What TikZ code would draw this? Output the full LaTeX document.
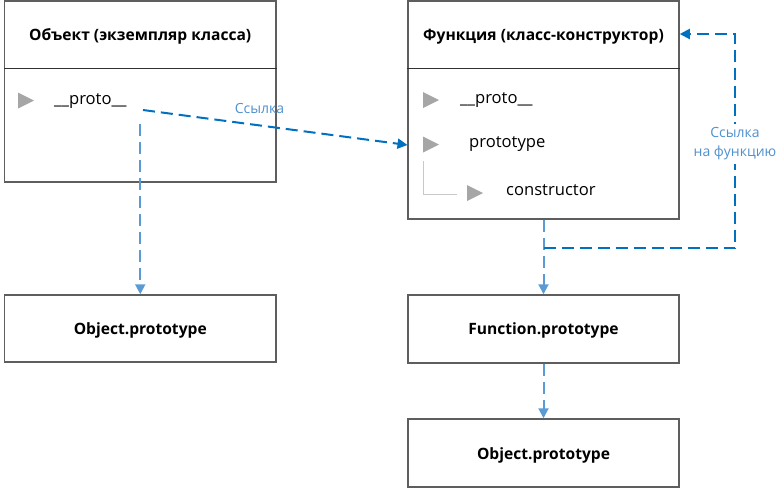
\documentclass[tikz,border=0pt]{standalone}
\usepackage{fontspec}
\setmainfont{Open Sans}
\usetikzlibrary{arrows.meta}
\definecolor{boxgray}{HTML}{5E5E5E}
\definecolor{divgray}{HTML}{303030}
\definecolor{darkblue}{HTML}{0070C0}
\definecolor{lightblue}{HTML}{5B9BD5}
\definecolor{trigray}{HTML}{A6A6A6}
\definecolor{treegray}{HTML}{C8C8C8}
\definecolor{labelblue}{HTML}{4F91CF}
\begin{document}
\begin{tikzpicture}[x=1pt,y=-1pt,
  box/.style={draw=boxgray, line width=1.5pt, inner sep=0pt, fill=white},
  divider/.style={draw=divgray, line width=1.2pt},
  head/.style={font=\fontsize{15.6}{19}\selectfont\bfseries, anchor=base, inner sep=0pt},
  item/.style={font=\fontsize{16.6}{19}\selectfont, anchor=base west, inner sep=0pt},
  lbl/.style={font=\fontsize{14}{19}\selectfont, text=labelblue, align=center, inner sep=2pt},
  dlink/.style={draw=darkblue, line width=2pt, dash pattern=on 12pt off 6pt, -{Triangle[length=10pt,width=10pt]}},
  llink/.style={draw=lightblue, line width=2pt, dash pattern=on 12pt off 6pt, -{Triangle[length=10pt,width=10pt]}},
  tri/.style={fill=trigray, draw=none},
  tree/.style={draw=treegray, line width=1pt},
]
\useasboundingbox (0,0) rectangle (784,488);

% boxes
\node[box, minimum width=271.5pt, minimum height=181pt] (objBox) at (140.25,91.5) {};
\node[box, minimum width=271pt, minimum height=218pt] (funcBox) at (543.5,110) {};
\node[box, minimum width=271.5pt, minimum height=67pt] (objProtoA) at (140.25,328.5) {};
\node[box, minimum width=271pt, minimum height=68pt] (funcProto) at (543.5,329) {};
\node[box, minimum width=271pt, minimum height=68pt] (objProtoB) at (543.5,453) {};

% dividers
\draw[divider] (objBox.west |- 0,68.5) -- (objBox.east |- 0,68.5);
\draw[divider] (funcBox.west |- 0,68.5) -- (funcBox.east |- 0,68.5);

% headers
\node[head] (objHead) at (140.25,40) {Объект (экземпляр класса)};
\node[head] (funcHead) at (543.5,40) {Функция (класс-конструктор)};
\node[head] (objProtoAText) at (140.25,334) {Object.prototype};
\node[head] (funcProtoText) at (543.5,334) {Function.prototype};
\node[head] (objProtoBText) at (543.5,459) {Object.prototype};

% triangles
\fill[tri] (18,92.5) -- (34,100.5) -- (18,108.5) -- cycle;
\fill[tri] (423,92) -- (439,100) -- (423,108) -- cycle;
\fill[tri] (423,136.5) -- (439,144.5) -- (423,152.5) -- cycle;
\fill[tri] (467,185) -- (483,193) -- (467,201) -- cycle;

% tree line
\coordinate (treeTop) at (423,161);
\coordinate (treeCorner) at (423,194);
\coordinate (treeEnd) at (457,194);
\draw[tree] (treeTop) -- (treeCorner) -- (treeEnd);

% items
\node[item] (oProto) at (54,104) {\_\_proto\_\_};
\node[item] (fProto) at (460,103.5) {\_\_proto\_\_};
\node[item] (fPrototype) at (469,147.5) {prototype};
\node[item] (fCtor) at (506,195.5) {constructor};

% connectors
\coordinate (linkStart) at (143,110);
\coordinate (linkEnd) at (407.5,145);
\draw[dlink] (linkStart) -- (linkEnd);
\node[lbl, anchor=base, inner sep=0pt] (linkLbl) at (259.5,113) {Ссылка};

\coordinate (oDown) at (140.25,124);
\draw[llink] (oDown) -- (objProtoA.north);

\draw[llink] (funcBox.south) -- (funcProto.north);
\draw[llink] (funcProto.south) -- (objProtoB.north);

\coordinate (loopA) at (543.5,248);
\coordinate (loopB) at (735,248);
\coordinate (loopC) at (735,34);
\draw[dlink] (loopA) -- (loopB) -- (loopC) -- (funcBox.east |- loopC);
\node[lbl, fill=white, inner xsep=1pt, inner ysep=4pt] (loopLbl) at (735,144) {Ссылка\\на функцию};
\end{tikzpicture}
\end{document}
